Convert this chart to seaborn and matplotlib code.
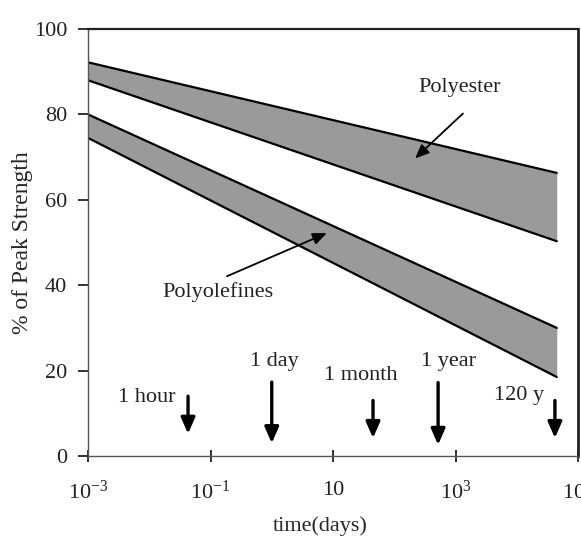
import matplotlib
matplotlib.use("Agg")
import matplotlib.pyplot as plt
import seaborn as sns
import numpy as np
import pandas as pd

# ---- data ----
time_days = [1e-3, 4.5e4]
polyester_upper = [92.2, 66.3]
polyester_lower = [88.0, 50.3]
polyolefin_upper = [80.0, 30.0]
polyolefin_lower = [74.5, 18.5]

marker_labels = ["1 hour", "1 day", "1 month", "1 year", "120 y"]
marker_times = [0.043, 1.0, 45.0, 520.0, 42000.0]
marker_top = [14.0, 17.3, 13.0, 17.2, 13.0]
marker_bottom = [5.2, 3.0, 4.2, 2.6, 4.2]
label_x = [0.0091, 1.1, 28.0, 760.0, 11000.0]
label_y = [13.8, 22.2, 18.8, 22.2, 14.2]

band_names = ["Polyester", "Polyolefines"]
band_label_x = [1170, 0.13]
band_label_y = [86.3, 38.4]
band_arrow_tail_x = [1320, 0.186]
band_arrow_tail_y = [80.2, 42.1]
band_arrow_head_x = [219, 7.9]
band_arrow_head_y = [69.7, 52.2]

x_ticks = [1e-3, 1e-1, 10, 1e3, 1e5]
x_ticklabels = [r"$\mathregular{10^{-3}}$", r"$\mathregular{10^{-1}}$", "10",
                r"$\mathregular{10^{3}}$", r"$\mathregular{10^{5}}$"]
y_ticks = [0, 20, 40, 60, 80, 100]

sns.set_theme(style="white")
plt.rcParams['font.family'] = ['Liberation Serif', 'DejaVu Serif']
plt.rcParams['mathtext.fontset'] = 'custom'
plt.rcParams['mathtext.rm'] = 'Liberation Serif'

fig = plt.figure(figsize=(5.81, 5.36), dpi=100)
ax = fig.add_axes([88/581, 80/536, 490/581, 427/536])

gray = "#9a9a9a"
ax.fill_between(time_days, polyester_lower, polyester_upper, color=gray, lw=0, zorder=1)
ax.fill_between(time_days, polyolefin_lower, polyolefin_upper, color=gray, lw=0, zorder=1)

df = pd.DataFrame({
    "t": time_days * 4,
    "v": polyester_upper + polyester_lower + polyolefin_upper + polyolefin_lower,
    "line": ["a"] * 2 + ["b"] * 2 + ["c"] * 2 + ["d"] * 2,
})
sns.lineplot(data=df, x="t", y="v", units="line", estimator=None,
             color="black", lw=1.6, ax=ax, zorder=2)

ax.set_xscale("log")
ax.set_xlim(1e-3, 1e5)
ax.set_ylim(0, 100)
ax.set_xticks(x_ticks)
ax.set_xticklabels(x_ticklabels)
ax.minorticks_off()
ax.set_yticks(y_ticks)
ax.tick_params(axis="both", labelsize=16, colors="#222222")
ax.tick_params(axis="y", direction="out", length=7, width=1.3, left=True, pad=8)
ax.tick_params(axis="x", direction="inout", length=8, width=1.3, bottom=True, pad=14)

for s in ["left", "bottom"]:
    ax.spines[s].set_color("#555555")
    ax.spines[s].set_linewidth(1.0)
ax.spines["top"].set_color("#222222")
ax.spines["top"].set_linewidth(1.6)
ax.spines["right"].set_color("#222222")
ax.spines["right"].set_linewidth(2.0)

ax.set_xlabel("time(days)", fontsize=16)
ax.xaxis.set_label_coords(0.473, -0.165)
ax.xaxis.label.set_va("center")
ax.set_ylabel("% of Peak Strength", fontsize=17)
ax.yaxis.set_label_coords(-0.112, 0.5)

for lab, t, yt, yb, lx, ly in zip(marker_labels, marker_times, marker_top,
                                  marker_bottom, label_x, label_y):
    ax.annotate("", xy=(t, yb), xytext=(t, yt),
                arrowprops=dict(arrowstyle="-|>,head_width=0.35,head_length=0.8",
                                color="black", lw=2.4, shrinkA=0, shrinkB=0))
    ax.text(lx, ly, lab, fontsize=16, ha="center", va="center", color="#222222")

for name, lx, ly, tx, ty, hx, hy in zip(band_names, band_label_x, band_label_y,
                                        band_arrow_tail_x, band_arrow_tail_y,
                                        band_arrow_head_x, band_arrow_head_y):
    ax.text(lx, ly, name, fontsize=16, ha="center", va="center", color="#222222")
    ax.annotate("", xy=(hx, hy), xytext=(tx, ty),
                arrowprops=dict(arrowstyle="-|>,head_width=0.3,head_length=0.7",
                                color="black", lw=1.3, shrinkA=0, shrinkB=0))

fig.savefig("out.png", dpi=100)
